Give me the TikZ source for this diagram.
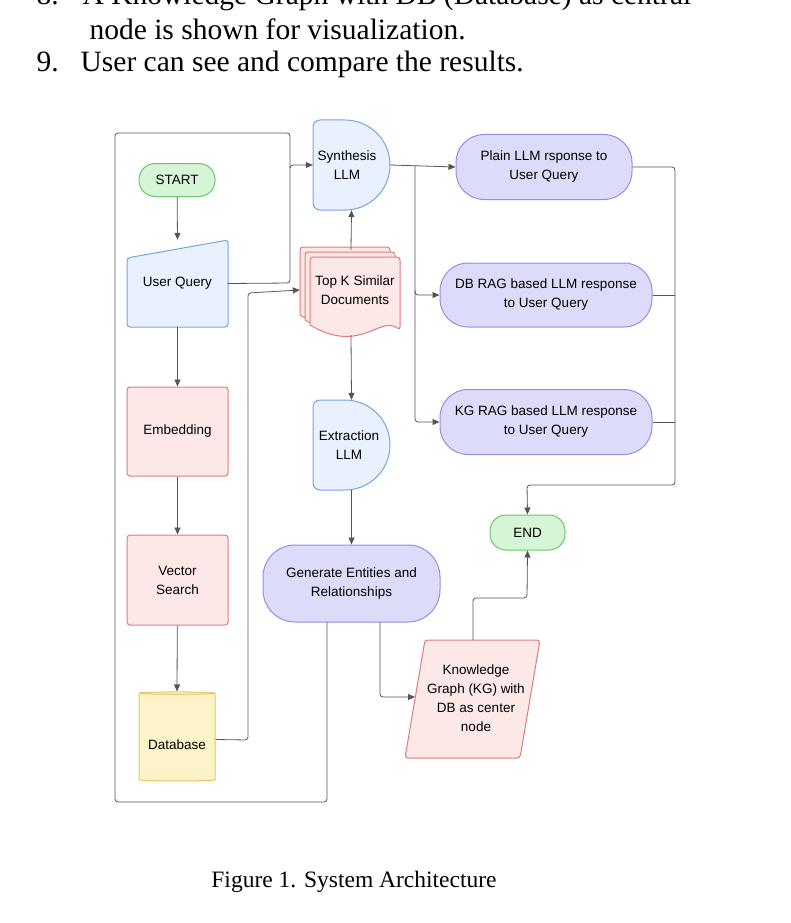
\documentclass[tikz,border=0pt]{standalone}
\usepackage{fontspec}
\setmainfont{Liberation Serif}
\setsansfont{Liberation Sans}
\usetikzlibrary{arrows.meta,shapes.geometric}
\definecolor{gF}{HTML}{D6F5D6}\definecolor{gD}{HTML}{6CC46C}
\definecolor{bF}{HTML}{E8F1FD}\definecolor{bD}{HTML}{74A6E2}
\definecolor{rF}{HTML}{FDE8E8}\definecolor{rD}{HTML}{E07B7B}
\definecolor{yF}{HTML}{FDF3C8}\definecolor{yD}{HTML}{E8C660}
\definecolor{pF}{HTML}{DCDCFA}\definecolor{pD}{HTML}{9090E0}
\definecolor{ln}{HTML}{555555}
\begin{document}
\begin{tikzpicture}[x=1pt,y=-1pt,
  lbl/.style={font=\sffamily\fontsize{13.5}{19}\selectfont,align=center,text=black},
  box/.style={lbl,draw,line width=1pt,rounded corners=3pt},
  pill/.style={lbl,draw,line width=1pt,rounded corners=18pt},
  ar/.style={draw=ln,line width=0.8pt,-{Triangle[length=7pt,width=6pt]},rounded corners=3pt},
  ln/.style={draw=ln,line width=0.8pt,rounded corners=3pt}]
\useasboundingbox (0,0) rectangle (791,923);
\node[anchor=base west,font=\fontsize{29.5}{30}\selectfont] (t0) at (33,5) {8.\hspace{24pt}A Knowledge Graph with DB (Database) as central};
\node[anchor=base west,font=\fontsize{29.5}{30}\selectfont] (t1) at (86,40) {node is shown for visualization.};
\node[anchor=base west,font=\fontsize{29.5}{30}\selectfont] (t2) at (33,72) {9.\hspace{22pt}User can see and compare the results.};
\node[font=\fontsize{23.5}{25}\selectfont] (cap) at (354,882) {Figure 1. System Architecture};

% shapes
\node[pill,fill=gF,draw=gD,minimum width=76pt,minimum height=33pt,rounded corners=16pt] (start) at (177,180) {START};
\fill[bF] (127,258) -- (228,240) -- (228,327) -- (127,327) -- cycle;
\draw[bD,line width=1pt,rounded corners=3pt] (127,258) -- (228,240) -- (228,327) -- (127,327) -- cycle;
\node[lbl,minimum width=100pt,minimum height=87pt] (uq) at (177.5,283.5) {User Query};
\node[box,fill=rF,draw=rD,minimum width=101pt,minimum height=89pt] (emb) at (177.5,431.5) {Embedding};
\node[box,fill=rF,draw=rD,minimum width=101pt,minimum height=90pt] (vs) at (177.5,580) {Vector\\Search};
\node[cylinder,shape border rotate=90,aspect=0.35,fill=yF,draw=yD,line width=1pt,minimum width=76pt,minimum height=89pt,lbl] (db) at (177,737.5) {};
\node[lbl] (dbt) at (177,745) {Database};
% synthesis delay
\draw[bD,fill=bF,line width=1pt] (345,120) -- (320,120) arc(-90:-180:7) -- (313,203) arc(180:90:7) -- (345,210) arc(90:-90:45) -- cycle;
\node[lbl,minimum width=77pt,minimum height=90pt] (syn) at (351.5,165) {};
\node[lbl] at (347,165) {Synthesis\\LLM};
\draw[bD,fill=bF,line width=1pt] (345,400) -- (320,400) arc(-90:-180:7) -- (313,483) arc(180:90:7) -- (345,490) arc(90:-90:45) -- cycle;
\node[lbl,minimum width=77pt,minimum height=90pt] (ext) at (351.5,445) {};
\node[lbl] at (349,445) {Extraction\\LLM};
% document stack
\foreach \d in {0,5,10}{
 \draw[rD,fill=rF,line width=1pt,rounded corners=3pt] (300+\d,247+\d) -- (390+\d,247+\d) -- (390+\d,320+\d) {[sharp corners] .. controls (370+\d,305+\d) and (350+\d,345+\d) .. (300+\d,315+\d)} -- cycle;}
\node[lbl,minimum width=102pt,minimum height=80pt] (topk) at (351,290) {};
\node[lbl] at (355,290) {Top K Similar\\Documents};
% purple pills
\node[pill,fill=pF,draw=pD,minimum width=176pt,minimum height=65pt,rounded corners=28pt] (plain) at (544,167) {Plain LLM rsponse to\\User Query};
\node[pill,fill=pF,draw=pD,minimum width=212pt,minimum height=64pt,rounded corners=28pt] (dbr) at (546,295) {DB RAG based LLM response\\to User Query};
\node[pill,fill=pF,draw=pD,minimum width=212pt,minimum height=65pt,rounded corners=28pt] (kgr) at (546,422) {KG RAG based LLM response\\to User Query};
\node[pill,fill=pF,draw=pD,minimum width=177pt,minimum height=77pt,rounded corners=32pt] (ge) at (351.5,583.5) {Generate Entities and\\Relationships};
\node[pill,fill=gF,draw=gD,minimum width=75pt,minimum height=35pt,rounded corners=16pt] (end) at (527.5,532.5) {END};
% KG parallelogram
\draw[rD,fill=rF,line width=1pt,rounded corners=3pt] (425,640) -- (540,640) -- (520,758) -- (405,758) -- cycle;
\node[lbl,minimum width=120pt,minimum height=118pt] (kg) at (472.5,699) {};
\node[lbl] at (476,698) {Knowledge\\Graph (KG) with\\DB as center\\node};

% connectors
\draw[ar] (start) -- (uq.north);
\draw[ar] (uq.south) -- (emb);
\draw[ar] (emb) -- (vs);
\draw[ar] (vs) -- (db.north);
\draw[ar] (uq.east) -- (290,283) -- (290,165) -- (syn.west);
\draw[ln] (327,622) -- (327,802) -- (115,802) -- (115,133) -- (290,133) -- (290,168);
\draw[ar] (db.east) ++(0,2) -- (248,740) -- (248,293) -- (topk.west);
\draw[ar] (topk.north) -- (syn.south);
\draw[ar] (topk.south) ++(0,5) -- (ext.north);
\draw[ar] (ext.south) -- (ge.north);
\draw[ar] (380,622) -- (380,697) -- (415,697);
\draw[ar] (473,640) -- (473,598) -- (527,598) -- (end.south);
\draw[ar] (syn.east) -- (plain.west);
\draw[ar] (415,165) -- (415,295) -- (dbr.west);
\draw[ar] (415,290) -- (415,422) -- (kgr.west);
\draw[ar] (plain.east) -- (675,167) -- (675,485) -- (527,485) -- (end.north);
\draw[ln] (dbr.east) -- (675,295);
\draw[ln] (kgr.east) -- (675,422);
\end{tikzpicture}
\end{document}
